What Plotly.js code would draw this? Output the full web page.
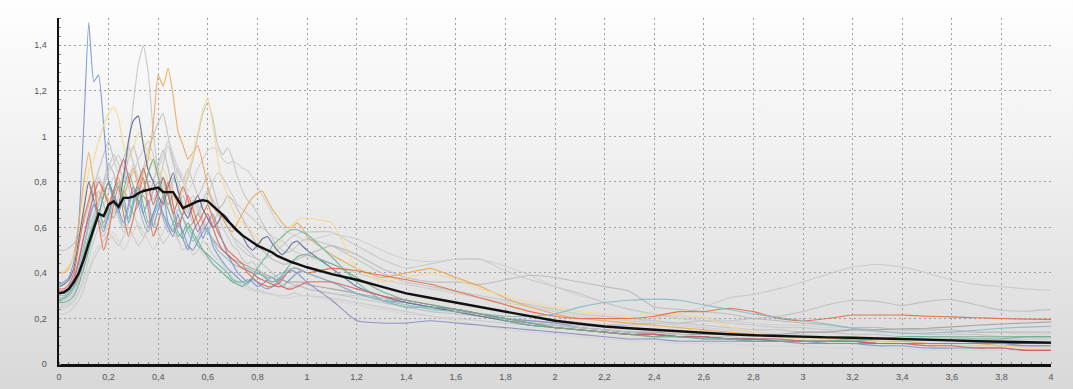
<!DOCTYPE html>
<html>
<head>
<meta charset="utf-8">
<script src="https://cdn.plot.ly/plotly-3.0.1.min.js"></script>
<style>
  html, body { margin: 0; padding: 0; }
  body {
    width: 1073px; height: 389px; overflow: hidden;
    background: linear-gradient(to bottom, #fefefe 0%, #f4f4f4 30%, #e6e6e6 65%, #d8d8d8 100%);
  }
  #chart { width: 1073px; height: 389px; }
</style>
</head>
<body>
<div id="chart"></div>
<script>
// Frequency axis (shared by every curve)
const freq = [0,0.02,0.04,0.06,0.08,0.10,0.12,0.14,0.16,0.18,0.20,0.22,0.24,0.26,0.28,0.30,0.32,0.34,0.36,0.38,0.40,0.42,0.44,0.46,0.48,0.50,0.52,0.54,0.56,0.58,0.60,0.62,0.64,0.66,0.68,0.70,0.72,0.74,0.76,0.78,0.80,0.82,0.84,0.86,0.88,0.90,0.92,0.94,0.96,0.98,1.00,
  1.1,1.2,1.3,1.4,1.5,1.6,1.7,1.8,1.9,2.0,2.1,2.2,2.3,2.4,2.5,2.6,2.7,2.8,2.9,3.0,3.1,3.2,3.3,3.4,3.5,3.6,3.7,3.8,3.9,4.0];

// Mean curve (black)
const meanCurve = [0.31,0.315,0.33,0.36,0.40,0.46,0.53,0.60,0.66,0.65,0.70,0.715,0.69,0.73,0.73,0.735,0.75,0.76,0.765,0.77,0.775,0.755,0.755,0.755,0.72,0.685,0.695,0.705,0.715,0.72,0.715,0.695,0.675,0.655,0.63,0.605,0.585,0.565,0.55,0.535,0.52,0.51,0.50,0.49,0.475,0.465,0.455,0.447,0.44,0.432,0.425,
  0.395,0.37,0.34,0.31,0.29,0.27,0.25,0.23,0.21,0.19,0.177,0.165,0.157,0.15,0.143,0.136,0.131,0.126,0.122,0.119,0.117,0.115,0.113,0.111,0.108,0.104,0.10,0.097,0.095,0.094];

// Individual record spectra
const grayA = [0.22,0.22,0.23,0.25,0.28,0.33,0.40,0.46,0.50,0.54,0.58,0.55,0.52,0.56,0.60,0.56,0.52,0.55,0.60,0.64,0.58,0.53,0.56,0.60,0.55,0.50,0.52,0.48,0.50,0.54,0.52,0.48,0.46,0.44,0.40,0.38,0.36,0.35,0.34,0.33,0.32,0.32,0.31,0.31,0.30,0.30,0.30,0.31,0.31,0.30,0.30,
  0.29,0.27,0.25,0.23,0.21,0.20,0.19,0.18,0.17,0.16,0.16,0.17,0.18,0.20,0.22,0.25,0.29,0.306,0.33,0.36,0.395,0.426,0.437,0.426,0.40,0.368,0.35,0.34,0.33,0.323];
const grayB = [0.50,0.50,0.51,0.53,0.57,0.62,0.70,0.78,0.85,0.92,0.98,0.90,0.84,0.90,0.96,0.88,0.80,0.86,0.94,1.00,1.06,1.10,1.00,0.90,0.84,0.80,0.86,0.80,0.74,0.78,0.84,0.78,0.70,0.64,0.60,0.56,0.54,0.52,0.50,0.48,0.46,0.44,0.42,0.40,0.38,0.37,0.36,0.35,0.34,0.34,0.33,
  0.31,0.29,0.27,0.25,0.23,0.22,0.21,0.20,0.19,0.18,0.17,0.17,0.17,0.18,0.18,0.19,0.19,0.20,0.21,0.23,0.26,0.28,0.275,0.257,0.275,0.283,0.26,0.236,0.232,0.24];
const grayC = [0.30,0.30,0.31,0.33,0.38,0.46,0.56,0.64,0.70,0.76,0.72,0.66,0.74,0.84,0.78,0.70,0.76,0.86,0.80,0.72,0.78,0.88,0.96,0.88,0.80,0.76,0.82,0.90,1.00,1.10,1.15,1.08,0.96,0.92,0.95,0.90,0.82,0.76,0.72,0.70,0.66,0.62,0.58,0.55,0.52,0.50,0.49,0.50,0.52,0.54,0.55,
  0.52,0.46,0.40,0.36,0.34,0.32,0.30,0.28,0.26,0.24,0.22,0.21,0.20,0.19,0.18,0.17,0.16,0.15,0.15,0.14,0.14,0.13,0.13,0.12,0.12,0.12,0.11,0.11,0.11,0.11];
const grayD = [0.26,0.26,0.27,0.30,0.35,0.42,0.50,0.58,0.64,0.70,0.76,0.82,0.78,0.72,0.80,0.88,0.82,0.76,0.84,0.90,0.84,0.78,0.74,0.80,0.86,0.82,0.76,0.80,0.86,0.90,0.94,0.95,0.94,0.90,0.88,0.89,0.88,0.86,0.85,0.82,0.78,0.74,0.70,0.66,0.62,0.60,0.58,0.57,0.56,0.55,0.54,
  0.57,0.55,0.50,0.46,0.45,0.46,0.46,0.43,0.39,0.34,0.30,0.27,0.24,0.22,0.21,0.20,0.19,0.18,0.17,0.17,0.16,0.16,0.15,0.15,0.14,0.14,0.14,0.14,0.13,0.13];
const grayE = [0.31,0.31,0.32,0.34,0.40,0.50,0.60,0.66,0.72,0.80,0.88,0.84,0.76,0.82,0.90,0.96,0.88,0.80,0.74,0.80,0.88,0.94,0.86,0.76,0.70,0.74,0.68,0.62,0.66,0.72,0.76,0.72,0.68,0.70,0.74,0.72,0.68,0.64,0.60,0.56,0.52,0.50,0.48,0.46,0.45,0.44,0.44,0.45,0.46,0.47,0.48,
  0.52,0.48,0.42,0.38,0.36,0.36,0.35,0.37,0.39,0.38,0.36,0.34,0.32,0.25,0.24,0.23,0.22,0.20,0.19,0.18,0.17,0.16,0.16,0.15,0.15,0.15,0.14,0.14,0.14,0.14];
const grayF = [0.25,0.25,0.26,0.28,0.32,0.38,0.46,0.54,0.60,0.56,0.62,0.68,0.64,0.58,0.62,0.66,0.60,0.56,0.60,0.66,0.70,0.66,0.62,0.58,0.62,0.66,0.70,0.74,0.70,0.64,0.60,0.62,0.66,0.64,0.60,0.56,0.52,0.50,0.48,0.47,0.46,0.46,0.47,0.48,0.50,0.52,0.54,0.56,0.57,0.58,0.58,
  0.58,0.52,0.46,0.42,0.44,0.46,0.46,0.41,0.37,0.34,0.31,0.27,0.24,0.22,0.20,0.19,0.18,0.17,0.16,0.16,0.15,0.15,0.14,0.14,0.13,0.13,0.13,0.12,0.12,0.12];
const grayG = [0.24,0.24,0.25,0.27,0.31,0.36,0.42,0.48,0.52,0.50,0.54,0.58,0.54,0.50,0.54,0.58,0.62,0.58,0.54,0.50,0.54,0.58,0.62,0.58,0.54,0.50,0.52,0.56,0.52,0.48,0.46,0.44,0.42,0.40,0.38,0.36,0.35,0.34,0.33,0.32,0.32,0.31,0.31,0.30,0.30,0.29,0.29,0.29,0.30,0.30,0.30,
  0.28,0.26,0.24,0.22,0.21,0.19,0.17,0.15,0.14,0.13,0.12,0.11,0.10,0.10,0.09,0.09,0.09,0.08,0.08,0.08,0.07,0.07,0.07,0.07,0.06,0.06,0.06,0.06,0.06,0.06];
const grayH = [0.28,0.28,0.29,0.31,0.36,0.44,0.54,0.62,0.70,0.78,0.84,0.88,0.92,0.86,0.80,0.84,0.90,0.94,0.98,0.92,0.86,0.92,0.98,0.92,0.86,0.80,0.74,0.70,0.66,0.70,0.74,0.80,0.84,0.82,0.78,0.74,0.70,0.68,0.66,0.64,0.62,0.60,0.58,0.56,0.55,0.54,0.52,0.50,0.49,0.48,0.47,
  0.44,0.40,0.37,0.35,0.33,0.31,0.29,0.27,0.25,0.23,0.21,0.20,0.19,0.18,0.17,0.16,0.15,0.14,0.13,0.13,0.12,0.12,0.11,0.11,0.11,0.10,0.10,0.10,0.10,0.10];
const greyBrown = [0.29,0.29,0.30,0.33,0.38,0.46,0.54,0.60,0.66,0.62,0.68,0.64,0.70,0.76,0.72,0.66,0.70,0.74,0.70,0.76,0.80,0.76,0.70,0.74,0.70,0.64,0.60,0.62,0.66,0.62,0.58,0.55,0.52,0.50,0.48,0.46,0.45,0.44,0.43,0.42,0.41,0.40,0.39,0.38,0.37,0.37,0.36,0.36,0.36,0.36,0.35,
  0.33,0.31,0.29,0.27,0.25,0.23,0.21,0.19,0.18,0.17,0.16,0.15,0.14,0.14,0.13,0.13,0.13,0.13,0.13,0.14,0.14,0.15,0.15,0.155,0.157,0.163,0.17,0.176,0.18,0.185];
const bluePeak = [0.35,0.36,0.38,0.45,0.62,1.05,1.50,1.24,1.27,1.05,0.80,0.72,0.66,0.74,0.62,0.70,0.78,0.66,0.72,0.60,0.68,0.74,0.62,0.58,0.66,0.55,0.50,0.58,0.62,0.55,0.60,0.52,0.48,0.45,0.42,0.40,0.38,0.36,0.37,0.36,0.34,0.35,0.37,0.38,0.36,0.34,0.36,0.38,0.40,0.41,0.40,
  0.36,0.31,0.28,0.27,0.25,0.24,0.22,0.20,0.19,0.18,0.16,0.15,0.14,0.13,0.12,0.12,0.11,0.11,0.10,0.10,0.09,0.09,0.08,0.08,0.07,0.07,0.07,0.07,0.06,0.06];
const grayPeak = [0.27,0.28,0.30,0.33,0.40,0.50,0.62,0.75,0.82,0.78,0.86,0.92,0.88,0.80,0.95,1.15,1.32,1.40,1.28,1.02,0.85,0.80,0.74,0.82,0.78,0.70,0.66,0.72,0.68,0.62,0.58,0.62,0.66,0.60,0.56,0.52,0.50,0.46,0.44,0.45,0.42,0.40,0.38,0.36,0.37,0.35,0.33,0.34,0.35,0.34,0.33,
  0.31,0.30,0.29,0.27,0.25,0.23,0.21,0.20,0.18,0.17,0.16,0.15,0.14,0.13,0.13,0.12,0.12,0.11,0.11,0.10,0.10,0.10,0.09,0.09,0.09,0.08,0.08,0.08,0.08,0.08];
const orange = [0.40,0.40,0.42,0.48,0.62,0.80,0.93,0.80,0.72,0.78,0.70,0.76,0.82,0.74,0.80,0.86,0.78,0.84,0.90,1.05,1.27,1.22,1.30,1.18,1.02,0.96,0.90,0.93,0.96,0.88,0.78,0.70,0.66,0.64,0.60,0.58,0.62,0.66,0.70,0.73,0.75,0.76,0.72,0.68,0.65,0.62,0.60,0.60,0.62,0.60,0.56,
  0.48,0.42,0.38,0.40,0.42,0.38,0.34,0.29,0.25,0.22,0.20,0.19,0.18,0.17,0.16,0.15,0.14,0.13,0.12,0.12,0.11,0.11,0.10,0.10,0.09,0.09,0.09,0.08,0.08,0.08];
const yellow = [0.40,0.41,0.43,0.47,0.55,0.70,0.85,0.90,0.98,1.05,1.10,1.13,1.08,0.96,0.90,0.95,1.02,0.98,0.92,0.88,0.82,0.86,0.80,0.74,0.70,0.76,0.84,0.92,1.02,1.12,1.17,1.05,0.90,0.80,0.74,0.68,0.64,0.62,0.60,0.58,0.55,0.52,0.50,0.50,0.52,0.55,0.58,0.61,0.63,0.64,0.64,
  0.62,0.42,0.36,0.38,0.40,0.37,0.33,0.30,0.27,0.25,0.23,0.22,0.21,0.22,0.215,0.205,0.165,0.14,0.12,0.11,0.11,0.10,0.10,0.09,0.09,0.08,0.08,0.08,0.07,0.07];
const navy = [0.34,0.35,0.37,0.42,0.55,0.68,0.80,0.72,0.66,0.74,0.80,0.74,0.70,0.82,0.98,1.07,1.09,0.96,0.85,0.80,0.74,0.70,0.78,0.84,0.76,0.68,0.64,0.70,0.74,0.68,0.64,0.60,0.62,0.66,0.64,0.60,0.58,0.56,0.52,0.50,0.52,0.55,0.56,0.53,0.50,0.48,0.50,0.53,0.54,0.52,0.50,
  0.42,0.34,0.30,0.27,0.25,0.23,0.21,0.19,0.17,0.16,0.15,0.14,0.13,0.13,0.12,0.12,0.11,0.11,0.10,0.10,0.10,0.10,0.09,0.09,0.09,0.09,0.09,0.09,0.09,0.09];
const teal = [0.28,0.29,0.31,0.34,0.40,0.48,0.56,0.62,0.68,0.60,0.66,0.74,0.80,0.70,0.64,0.72,0.78,0.70,0.62,0.66,0.74,0.82,0.76,0.66,0.58,0.55,0.60,0.56,0.52,0.50,0.48,0.46,0.44,0.42,0.40,0.37,0.36,0.36,0.35,0.38,0.42,0.45,0.48,0.52,0.54,0.56,0.58,0.59,0.59,0.58,0.57,
  0.47,0.36,0.28,0.25,0.25,0.24,0.22,0.19,0.17,0.16,0.15,0.14,0.13,0.12,0.12,0.11,0.11,0.10,0.10,0.10,0.10,0.10,0.11,0.11,0.11,0.11,0.11,0.11,0.12,0.12];
const red = [0.33,0.33,0.35,0.40,0.52,0.64,0.72,0.80,0.62,0.50,0.58,0.70,0.78,0.66,0.56,0.64,0.74,0.82,0.68,0.56,0.62,0.72,0.80,0.70,0.60,0.66,0.74,0.68,0.62,0.66,0.70,0.64,0.58,0.54,0.50,0.48,0.46,0.44,0.40,0.38,0.36,0.35,0.34,0.34,0.35,0.37,0.40,0.42,0.42,0.41,0.40,
  0.42,0.41,0.39,0.37,0.35,0.32,0.29,0.26,0.23,0.21,0.20,0.20,0.20,0.21,0.23,0.23,0.245,0.23,0.20,0.19,0.20,0.215,0.215,0.215,0.21,0.207,0.203,0.20,0.197,0.196];
const cyan = [0.30,0.30,0.32,0.35,0.42,0.52,0.62,0.70,0.76,0.70,0.64,0.72,0.66,0.60,0.68,0.76,0.70,0.62,0.58,0.64,0.70,0.64,0.58,0.62,0.68,0.64,0.58,0.54,0.56,0.60,0.58,0.54,0.50,0.48,0.46,0.44,0.43,0.42,0.42,0.41,0.40,0.39,0.38,0.38,0.39,0.40,0.41,0.42,0.42,0.41,0.40,
  0.36,0.31,0.28,0.26,0.24,0.23,0.22,0.21,0.21,0.22,0.25,0.27,0.28,0.285,0.28,0.26,0.24,0.22,0.205,0.19,0.175,0.157,0.145,0.135,0.135,0.14,0.148,0.157,0.162,0.166];
const violet = [0.32,0.32,0.34,0.38,0.46,0.56,0.64,0.70,0.64,0.58,0.66,0.74,0.68,0.62,0.70,0.78,0.72,0.66,0.60,0.66,0.72,0.66,0.60,0.56,0.62,0.58,0.52,0.50,0.54,0.58,0.62,0.66,0.60,0.54,0.48,0.44,0.40,0.38,0.36,0.37,0.36,0.34,0.33,0.34,0.36,0.38,0.40,0.41,0.40,0.38,0.36,
  0.28,0.19,0.18,0.18,0.19,0.18,0.17,0.16,0.15,0.14,0.13,0.12,0.11,0.11,0.10,0.10,0.10,0.10,0.10,0.09,0.09,0.09,0.09,0.09,0.09,0.09,0.09,0.09,0.08,0.08];
const crimson = [0.32,0.32,0.33,0.37,0.45,0.56,0.66,0.74,0.80,0.76,0.70,0.76,0.84,0.90,0.82,0.74,0.80,0.86,0.78,0.70,0.76,0.82,0.74,0.66,0.72,0.78,0.72,0.64,0.58,0.62,0.66,0.60,0.54,0.50,0.48,0.46,0.44,0.42,0.41,0.40,0.38,0.37,0.36,0.35,0.34,0.34,0.33,0.33,0.34,0.35,0.36,
  0.36,0.33,0.30,0.28,0.26,0.24,0.22,0.20,0.18,0.16,0.15,0.14,0.13,0.13,0.12,0.12,0.11,0.11,0.11,0.10,0.10,0.10,0.09,0.09,0.08,0.08,0.07,0.07,0.06,0.06];
const green = [0.27,0.27,0.28,0.30,0.35,0.42,0.50,0.58,0.66,0.74,0.80,0.74,0.68,0.76,0.84,0.78,0.70,0.76,0.84,0.90,0.82,0.74,0.68,0.62,0.56,0.58,0.62,0.58,0.54,0.50,0.47,0.44,0.42,0.40,0.38,0.36,0.35,0.34,0.36,0.38,0.40,0.39,0.37,0.36,0.37,0.39,0.42,0.45,0.47,0.48,0.48,
  0.44,0.38,0.32,0.28,0.26,0.24,0.22,0.20,0.18,0.16,0.15,0.14,0.13,0.12,0.12,0.11,0.11,0.10,0.10,0.10,0.10,0.11,0.11,0.12,0.12,0.12,0.12,0.12,0.12,0.12];

const records = [grayA, grayB, grayC, grayD, grayE, grayF, grayG, grayH, greyBrown,
                 bluePeak, grayPeak, orange, yellow, navy, teal, red, cyan, violet, crimson, green];
const recordColors = ['#c9c9c9','#bfbfbf','#c2c2c2','#cfcfcf','#b9b9b9','#c6c6c6','#d3d3d3','#cbcbcb','#a59f98',
                      '#7491cc','#c4c4c4','#eea653','#f2d990','#56628f','#66b7a6','#e3693f','#85bac9','#878bc2','#d65c5c','#6aae8c'];

const xTicks = [0,0.2,0.4,0.6,0.8,1,1.2,1.4,1.6,1.8,2,2.2,2.4,2.6,2.8,3,3.2,3.4,3.6,3.8,4];
const yTicks = [0,0.2,0.4,0.6,0.8,1,1.2,1.4];

const traces = records.map((r, i) => ({
  x: freq, y: r, type: 'scatter', mode: 'lines',
  line: { color: recordColors[i], width: 1.1, shape: 'spline', smoothing: 0.4 },
  opacity: 0.9,
  hoverinfo: 'skip', showlegend: false
}));
traces.push({
  x: freq, y: meanCurve, type: 'scatter', mode: 'lines',
  line: { color: '#111111', width: 2.4 }, showlegend: false
});

const axisFont = { family: 'Liberation Sans, Arial, sans-serif', size: 9, color: '#555555' };

const layout = {
  width: 1073, height: 389,
  margin: { l: 59, r: 22, t: 18, b: 25 },
  paper_bgcolor: 'rgba(0,0,0,0)',
  plot_bgcolor: 'rgba(0,0,0,0)',
  separators: ', ',
  showlegend: false,
  xaxis: {
    range: [0, 4], tickvals: xTicks, tickfont: axisFont,
    showgrid: true, gridcolor: '#a0a0a0', griddash: '2px,3px', gridwidth: 1,
    zeroline: false, showline: true, linecolor: '#111111', linewidth: 2.5,
    ticks: '', ticklabelstandoff: 3,
    minor: { dtick: 0.04, ticks: 'inside', ticklen: 2, tickcolor: '#888888', showgrid: false }
  },
  yaxis: {
    range: [0, 1.52], tickvals: yTicks, tickfont: axisFont,
    showgrid: true, gridcolor: '#a0a0a0', griddash: '2px,3px', gridwidth: 1,
    zeroline: false, showline: true, linecolor: '#111111', linewidth: 2.5,
    ticks: '', ticklabelstandoff: 8,
    minor: { dtick: 0.04, ticks: 'inside', ticklen: 2, tickcolor: '#888888', showgrid: false }
  }
};

Plotly.newPlot('chart', traces, layout, { displayModeBar: false, staticPlot: true });
</script>
</body>
</html>
